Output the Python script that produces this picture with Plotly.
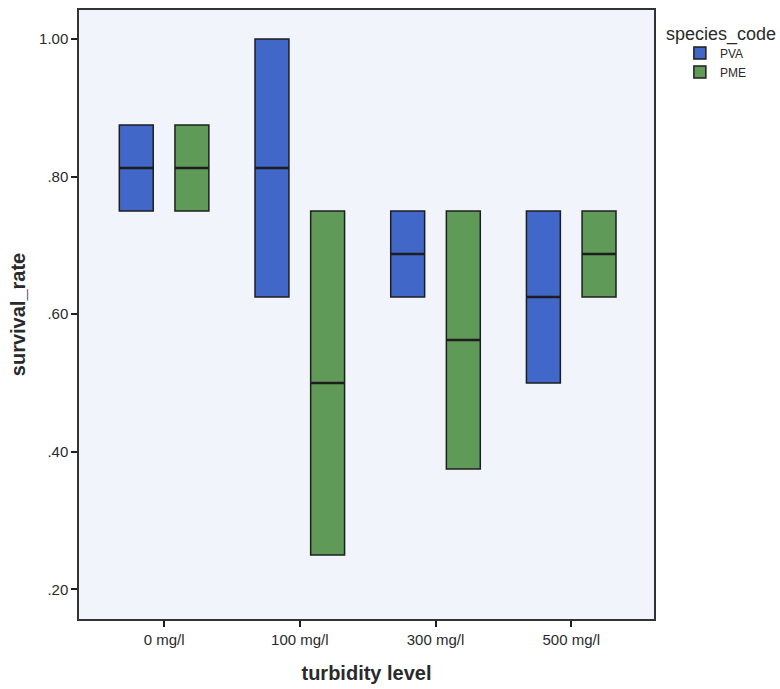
import plotly.graph_objects as go

# ---- data ----
categories = ["0 mg/l", "100 mg/l", "300 mg/l", "500 mg/l"]
species = ["PVA", "PME"]
pva_q1 = [0.75, 0.625, 0.625, 0.50]
pva_median = [0.8125, 0.8125, 0.6875, 0.625]
pva_q3 = [0.875, 1.00, 0.75, 0.75]
pme_q1 = [0.75, 0.25, 0.375, 0.625]
pme_median = [0.8125, 0.50, 0.5625, 0.6875]
pme_q3 = [0.875, 0.75, 0.75, 0.75]
y_tickvals = [0.2, 0.4, 0.6, 0.8, 1.0]
y_ticktext = [".20", ".40", ".60", ".80", "1.00"]

colors = {"PVA": "#4167C8", "PME": "#5F9A59"}
offsets = {"PVA": -0.205, "PME": 0.205}
box_w = 0.25
edge = "#1e1e1e"
FONT = "Liberation Sans, Arial, sans-serif"

series = {
    "PVA": (pva_q1, pva_median, pva_q3),
    "PME": (pme_q1, pme_median, pme_q3),
}

fig = go.Figure()
for name in species:
    q1, med, q3 = series[name]
    xs = [i + offsets[name] for i in range(len(categories))]
    fig.add_trace(go.Box(
        name=name, x=xs, q1=q1, median=med, q3=q3,
        lowerfence=q1, upperfence=q3, width=box_w, whiskerwidth=0,
        fillcolor=colors[name], line=dict(color=edge, width=1.5),
        boxpoints=False, hoverinfo="skip",
    ))
# thicker median lines
for name in species:
    q1, med, q3 = series[name]
    mx, my = [], []
    for i, m in enumerate(med):
        c = i + offsets[name]
        mx += [c - box_w / 2, c + box_w / 2, None]
        my += [m, m, None]
    fig.add_trace(go.Scatter(x=mx, y=my, mode="lines", showlegend=False,
                             line=dict(color=edge, width=2.6), hoverinfo="skip"))

fig.update_layout(
    width=780, height=689,
    margin=dict(l=79, r=126, t=8, b=67),
    paper_bgcolor="white", plot_bgcolor="#F1F4FA",
    boxmode="overlay",
    font=dict(family=FONT, color="#2a2a2a", size=15),
    showlegend=True,
    legend=dict(x=1.045, xanchor="left", y=0.953, yanchor="top",
                font=dict(size=12, color="#2a2a2a"), itemwidth=30,
                tracegroupgap=0, bgcolor="rgba(0,0,0,0)"),
    annotations=[dict(text="species_code", xref="paper", yref="paper",
                      x=1.017, y=(622 - 33) / 614, xanchor="left", yanchor="middle",
                      showarrow=False, font=dict(size=18, color="#2a2a2a"))],
)
fig.update_xaxes(
    range=[-0.627, 3.61], tickvals=list(range(len(categories))), ticktext=categories,
    ticks="outside", ticklen=6, tickwidth=1.5, tickcolor=edge,
    showline=True, linecolor="#333", linewidth=1.5, mirror=True,
    showgrid=False, zeroline=False, tickfont=dict(size=15),
    title=dict(text="<b>turbidity level</b>", font=dict(size=20), standoff=19),
)
fig.update_yaxes(
    range=[0.157, 1.042], tickvals=y_tickvals, ticktext=y_ticktext,
    ticks="outside", ticklen=6, tickwidth=1.5, tickcolor=edge,
    showline=True, linecolor="#333", linewidth=1.5, mirror=True,
    showgrid=False, zeroline=False, tickfont=dict(size=15),
    title=dict(text="<b>survival_rate</b>", font=dict(size=20), standoff=8),
)
fig.write_html("out.html")
